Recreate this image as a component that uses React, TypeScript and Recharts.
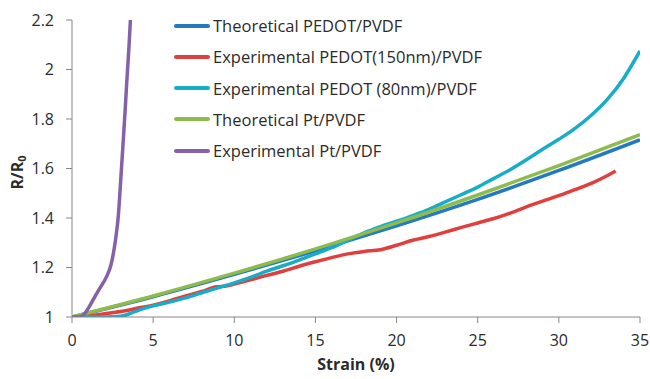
import React from "react";
import { LineChart, Line, XAxis, YAxis } from "recharts";

// Strain (%) values and R/R0 readings for each series
const theoPedotX = [0, 5, 10, 15, 20, 25, 30, 35];
const theoPedotY = [1, 1.082, 1.172, 1.267, 1.368, 1.475, 1.592, 1.716];

const exp150X = [0, 1, 2, 3, 4, 5, 6, 7, 8, 8.9, 9.5, 10, 11, 12, 13, 14, 15, 16, 17, 18, 19, 20, 21, 22, 23, 24, 25, 26, 27, 28, 29, 30, 31, 32, 33, 33.5];
const exp150Y = [1, 1.005, 1.013, 1.022, 1.035, 1.048, 1.065, 1.085, 1.103, 1.122, 1.125, 1.133, 1.15, 1.168, 1.185, 1.205, 1.223, 1.24, 1.255, 1.265, 1.272, 1.29, 1.31, 1.325, 1.343, 1.362, 1.38, 1.398, 1.42, 1.445, 1.468, 1.49, 1.515, 1.54, 1.572, 1.59];

const exp80X = [0, 1, 2, 3, 3.5, 4, 5, 6, 7, 8, 9, 10, 11, 12, 13, 14, 15, 16, 17, 18, 19, 20, 21, 22, 23, 24, 25, 26, 27, 28, 29, 30, 31, 32, 33, 34, 35];
const exp80Y = [1, 1, 1, 1.003, 1.012, 1.025, 1.045, 1.06, 1.077, 1.098, 1.118, 1.138, 1.16, 1.185, 1.207, 1.23, 1.255, 1.28, 1.31, 1.34, 1.365, 1.387, 1.41, 1.435, 1.465, 1.495, 1.525, 1.56, 1.595, 1.635, 1.678, 1.718, 1.762, 1.815, 1.88, 1.965, 2.075];

const theoPtX = [0, 5, 10, 15, 20, 25, 30, 35];
const theoPtY = [1, 1.085, 1.177, 1.275, 1.38, 1.493, 1.612, 1.737];

const expPtX = [0, 0.4, 0.7, 1.0, 1.3, 1.7, 2.13, 2.4, 2.55, 2.7, 2.85, 3.0, 3.16, 3.27, 3.37, 3.5, 3.6];
const expPtY = [1, 1.0, 1.008, 1.035, 1.069, 1.115, 1.163, 1.21, 1.257, 1.32, 1.405, 1.55, 1.715, 1.83, 1.944, 2.08, 2.2];

const seriesNames = [
  "Theoretical PEDOT/PVDF",
  "Experimental PEDOT(150nm)/PVDF",
  "Experimental PEDOT (80nm)/PVDF",
  "Theoretical Pt/PVDF",
  "Experimental Pt/PVDF",
];
const seriesColors = ["#2479C1", "#E0403D", "#17ADC9", "#8DBB4C", "#8660A8"];

const xTicks = [0, 5, 10, 15, 20, 25, 30, 35];
const yTicks = [1, 1.2, 1.4, 1.6, 1.8, 2, 2.2];

const zip = (xs: number[], ys: number[]) => xs.map((x, i) => ({ x, y: ys[i] }));
const seriesData = [
  zip(theoPedotX, theoPedotY),
  zip(exp150X, exp150Y),
  zip(exp80X, exp80Y),
  zip(theoPtX, theoPtY),
  zip(expPtX, expPtY),
];

const FONT = "'Open Sans', sans-serif";
const TEXT_COLOR = "#2b2b2b";
const AXIS_COLOR = "#868686";

const YLabel = (props: any) => {
  const vb = props.viewBox || {};
  const cy = (vb.y ?? 20) + (vb.height ?? 297) / 2 + 4;
  const cx = 17;
  return (
    <text
      x={cx}
      y={cy}
      transform={`rotate(-90, ${cx}, ${cy})`}
      textAnchor="middle"
      dominantBaseline="central"
      fontFamily={FONT}
      fontWeight="bold"
      fontSize={16}
      fill={TEXT_COLOR}
    >
      <tspan>R/R</tspan>
      <tspan fontSize={11} dy={4}>0</tspan>
    </text>
  );
};

export default function App() {
  return (
    <div style={{ position: "absolute", left: 0, top: 0, width: 650, height: 379, background: "#fff", fontFamily: FONT }}>
      <LineChart width={650} height={379} margin={{ top: 20, right: 10, bottom: 0, left: 0 }}>
        <XAxis
          type="number"
          dataKey="x"
          domain={[0, 35]}
          ticks={xTicks}
          allowDataOverflow
          height={62}
          stroke={AXIS_COLOR}
          tickSize={6}
          tickMargin={12}
          tick={{ fill: TEXT_COLOR, fontSize: 16, fontFamily: FONT }}
          label={{
            value: "Strain (%)",
            position: "insideBottom",
            offset: 9,
            style: { fill: TEXT_COLOR, fontSize: 16, fontWeight: "bold", fontFamily: FONT },
          }}
        />
        <YAxis
          type="number"
          domain={[1, 2.2]}
          ticks={yTicks}
          allowDataOverflow
          width={72}
          stroke={AXIS_COLOR}
          tickSize={6}
          tickMargin={12}
          tick={{ fill: TEXT_COLOR, fontSize: 16, fontFamily: FONT }}
          label={<YLabel />}
        />
        {seriesData.map((d, i) => (
          <Line
            key={seriesNames[i]}
            data={d}
            dataKey="y"
            name={seriesNames[i]}
            type="monotone"
            stroke={seriesColors[i]}
            strokeWidth={3.5}
            dot={false}
            activeDot={false}
            isAnimationActive={false}
          />
        ))}
      </LineChart>
      <div style={{ position: "absolute", left: 174, top: 10, pointerEvents: "none" }}>
        {seriesNames.map((name, i) => (
          <div key={name} style={{ display: "flex", alignItems: "center", height: 31.25 }}>
            <div style={{ width: 36, height: 4, borderRadius: 2, background: seriesColors[i] }} />
            <span style={{ marginLeft: 3, fontSize: 16.5, color: TEXT_COLOR, fontFamily: FONT, whiteSpace: "nowrap" }}>
              {name}
            </span>
          </div>
        ))}
      </div>
    </div>
  );
}
